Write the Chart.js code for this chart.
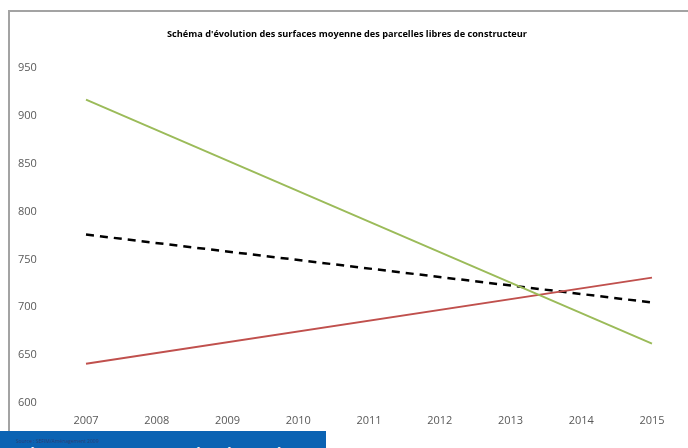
<!DOCTYPE html>
<html>
<head>
<meta charset="utf-8">
<script src="https://cdn.jsdelivr.net/npm/chart.js@4.4.1/dist/chart.umd.min.js"></script>
<style>
  html, body { margin: 0; padding: 0; background: #fff; }
  .wrap { position: relative; width: 688px; height: 448px; overflow: hidden; }
  .frame { position: absolute; left: 8px; top: 10px; width: 690px; height: 450px;
           border-left: 2px solid #a3a3a3; border-top: 2px solid #a3a3a3; box-sizing: border-box; }
  canvas { position: absolute; left: 0; top: 0; }
  .titre { position: absolute; left: 0; top: 27px; width: 694px; text-align: center;
           font-family: "Open Sans", sans-serif; font-size: 9.2px; font-weight: bold; color: #000; line-height: 14px; }
  .band { position: absolute; left: 0; top: 431px; width: 326px; height: 20px; background: #0b63b3;
          overflow: hidden; font-family: "Open Sans", sans-serif; }
  .band .src { position: absolute; left: 16px; top: 7px; font-size: 5px; color: #2b3f73; white-space: nowrap; }
  .band .big { position: absolute; left: 8px; top: 7px; font-size: 26px; color: #e8f1fa; white-space: nowrap; letter-spacing: 1px; }
</style>
</head>
<body>
<div class="wrap">
  <div class="frame"></div>
  <canvas id="chart" width="688" height="448"></canvas>
  <div class="titre" id="titre"></div>
  <div class="band">
    <span class="big">Observatoire de l'Habitat Départemental</span>
    <span class="src">Source : SEFIM/Aménagement 2009</span>
  </div>
</div>
<script>
const years = ['2007', '2008', '2009', '2010', '2011', '2012', '2013', '2014', '2015'];

// trend lines: only the end values are known, the middle years are left empty
const serieVerte = [917, null, null, null, null, null, null, null, 662];
const serieRouge = [641, null, null, null, null, null, null, null, 731];
const serieNoire = [776, null, null, null, null, null, null, null, 705];

const yMin = 600;
const yMax = 950;
const yStep = 50;

const titre = "Schéma d'évolution des surfaces moyenne des parcelles libres de constructeur";
document.getElementById('titre').textContent = titre;

const ctx = document.getElementById('chart').getContext('2d');
new Chart(ctx, {
  type: 'line',
  data: {
    labels: years,
    datasets: [
      { data: serieVerte, borderColor: '#9bbb59', borderWidth: 2, pointRadius: 0, spanGaps: true },
      { data: serieRouge, borderColor: '#c0504d', borderWidth: 2, pointRadius: 0, spanGaps: true },
      { data: serieNoire, borderColor: '#000000', borderWidth: 2.5, borderDash: [8, 6], pointRadius: 0, spanGaps: true }
    ]
  },
  options: {
    responsive: false,
    animation: false,
    layout: { padding: { left: 18, right: 36, top: 68, bottom: 15 } },
    plugins: {
      legend: { display: false },
      tooltip: { enabled: false }
    },
    scales: {
      x: {
        offset: false,
        grid: { display: false },
        border: { display: false },
        ticks: { color: '#595959', font: { family: 'Open Sans', size: 11 }, padding: 3, maxRotation: 0 },
        afterFit: (s) => { s.height = 30; }
      },
      y: {
        min: yMin,
        max: yMax,
        grid: { display: false },
        border: { display: false },
        ticks: { stepSize: yStep, color: '#595959', font: { family: 'Open Sans', size: 11 }, crossAlign: 'far' },
        afterFit: (s) => { s.width = 68; }
      }
    }
  }
});
</script>
</body>
</html>
